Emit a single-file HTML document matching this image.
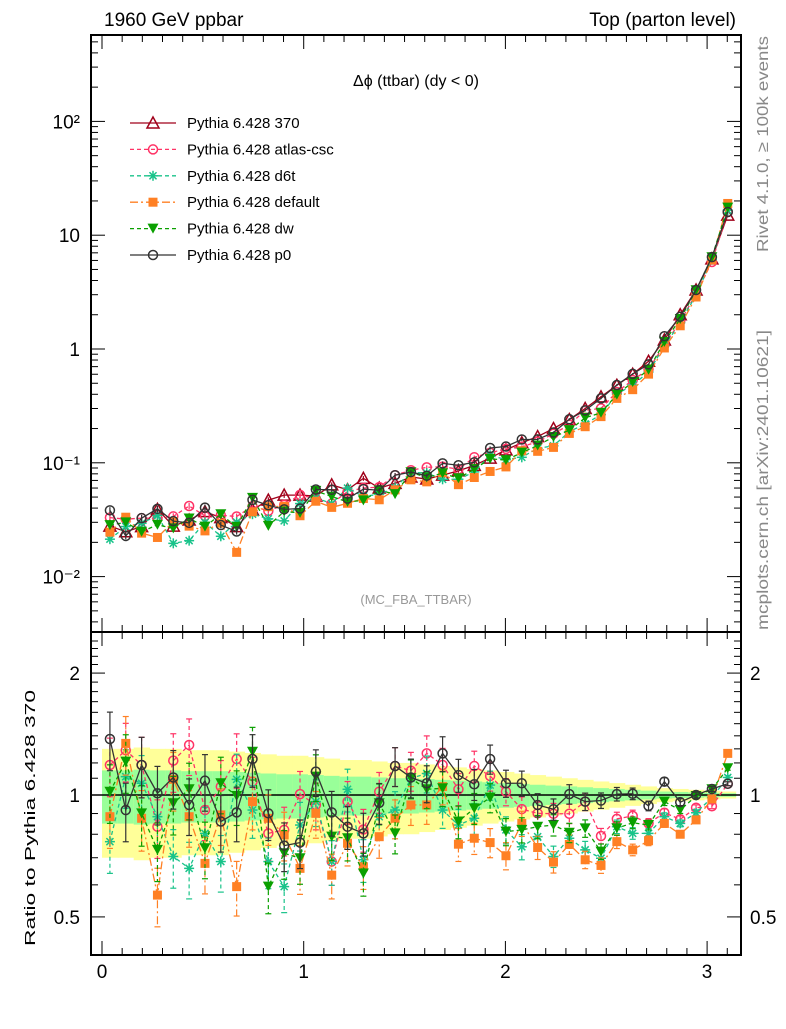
<!DOCTYPE html>
<html><head><meta charset="utf-8">
<style>
body{margin:0;background:#fff;}
svg{font-family:"Liberation Sans",sans-serif;}
</style></head>
<body>
<svg id="chart" width="786" height="1024" xmlns="http://www.w3.org/2000/svg">
<text x="104" y="26" font-size="19">1960 GeV ppbar</text>
<text x="736" y="26" font-size="19" text-anchor="end">Top (parton level)</text>
<text x="416" y="86" font-size="16" text-anchor="middle">Δϕ (ttbar) (dy &lt; 0)</text>
<text x="416" y="604" font-size="13" fill="#999" text-anchor="middle">(MC_FBA_TTBAR)</text>
<text transform="translate(768,252) rotate(-90)" font-size="16" fill="#888" textLength="216" lengthAdjust="spacingAndGlyphs">Rivet 4.1.0, ≥ 100k events</text>
<text transform="translate(768,630) rotate(-90)" font-size="16" fill="#888" textLength="300" lengthAdjust="spacingAndGlyphs">mcplots.cern.ch [arXiv:2401.10621]</text>
<text transform="translate(35,946) rotate(-90)" font-size="15" textLength="256" lengthAdjust="spacingAndGlyphs">Ratio to Pythia 6.428 370</text>
<g id="layer"></g>
</svg>
<script>
const mainRef = [0.0278,0.0248,0.0275,0.039,0.0278,0.0314,0.0372,0.033,0.0275,0.0385,0.047,0.052,0.052,0.051,0.064,0.058,0.073,0.06,0.066,0.075,0.072,0.078,0.085,0.095,0.11,0.13,0.15,0.17,0.2,0.24,0.3,0.38,0.48,0.6,0.78,1.2,2.0,3.3,6.2,15];
const rP0 = [1.375,0.918,1.186,1.01,1.105,0.945,1.085,0.86,0.906,1.227,0.901,0.75,0.763,1.142,0.906,0.835,0.804,0.957,1.179,1.105,1.069,1.267,1.12,1.063,1.227,1.069,1.069,0.945,0.922,1.005,0.963,0.969,1.005,1.007,0.94,1.079,0.96,1.0,1.035,1.066];
const rAtlas = [1.186,1.29,1.186,0.835,1.216,1.329,0.918,1.049,1.227,1.079,0.804,0.82,1.005,0.945,0.685,0.963,0.822,1.019,1.179,1.148,1.267,1.186,1.033,1.179,1.114,1.019,0.923,0.901,0.899,0.899,0.963,0.792,0.873,0.888,0.851,0.904,0.871,0.93,0.938,1.066];
const rDw = [1.019,1.209,0.901,0.732,0.954,1.033,0.739,1.069,0.994,1.279,0.594,0.718,0.698,1.11,0.789,0.782,0.64,0.954,0.804,1.1,1.033,1.039,0.86,0.927,0.985,0.812,0.82,0.835,0.843,0.807,0.827,0.725,0.827,0.854,0.843,0.963,0.918,0.994,1.033,1.164];
const rDefault = [0.884,1.341,0.876,0.566,1.093,0.884,0.678,0.893,0.594,0.963,0.876,0.797,0.659,0.901,0.634,0.76,0.665,0.789,0.876,0.945,0.945,1.049,0.756,0.782,0.763,0.708,0.851,0.742,0.683,0.755,0.692,0.67,0.767,0.732,0.771,0.851,0.8,0.868,0.978,1.267];
const rD6t = [0.767,1.11,1.069,0.884,0.705,0.659,0.804,0.685,1.093,0.918,0.685,0.594,0.843,0.963,0.685,1.033,0.692,0.884,0.918,1.1,1.13,0.918,0.843,0.876,1.058,0.82,0.745,0.789,0.705,0.782,0.732,0.698,0.835,0.804,0.804,0.884,0.851,0.904,0.985,1.105];
const yellowHalf = [0.30,0.30,0.31,0.30,0.30,0.29,0.29,0.29,0.28,0.27,0.26,0.25,0.25,0.24,0.23,0.22,0.22,0.21,0.20,0.20,0.19,0.18,0.17,0.16,0.15,0.14,0.13,0.12,0.11,0.10,0.09,0.08,0.07,0.06,0.05,0.04,0.035,0.03,0.025,0.02];
const xTicks = [0,1,2,3];
const yMainTicks = [[100,"10²"],[10,"10"],[1,"1"],[0.1,"10⁻¹"],[0.01,"10⁻²"]];
const yRatioTicks = [[2,"2"],[1,"1"],[0.5,"0.5"]];

const NS="http://www.w3.org/2000/svg";
const L=document.getElementById('layer');
const X0=91,X1=741,MT=35,MB=632,RB=955;
const xp=v=>102+201.7*v;
const ym=v=>349-113.8*Math.log10(v);
const yr=r=>795-405*Math.log10(r);
const bw=Math.PI/40;
function el(t,a,p){const e=document.createElementNS(NS,t);for(const k in a)e.setAttribute(k,a[k]);(p||L).appendChild(e);return e;}

const defs=el('defs',{});
const c1=el('clipPath',{id:'cm'},defs);el('rect',{x:X0,y:MT,width:X1-X0,height:MB-MT},c1);
const c2=el('clipPath',{id:'cr'},defs);el('rect',{x:X0,y:MB,width:X1-X0,height:RB-MB},c2);

const gb=el('g',{'clip-path':'url(#cr)'});


yellowHalf.forEach((h,i)=>{
  const xa=xp(i*bw),xb=xp((i+1)*bw);
  el('rect',{x:xa,y:yr(1+h),width:xb-xa+0.5,height:yr(1-h)-yr(1+h),fill:'#ffff99'},gb);
  el('rect',{x:xa,y:yr(1+h/2),width:xb-xa+0.5,height:yr(1-h/2)-yr(1+h/2),fill:'#99ff99'},gb);
});
el('line',{x1:X0,x2:X1,y1:yr(1),y2:yr(1),stroke:'#000','stroke-width':1.5});

const series=[
 {name:'Pythia 6.428 370',r:null,c:'#a0001a',dash:'',m:'tri'},
 {name:'Pythia 6.428 atlas-csc',r:rAtlas,c:'#ff3366',dash:'4,3',m:'circ'},
 {name:'Pythia 6.428 d6t',r:rD6t,c:'#19c38a',dash:'4,3',m:'star'},
 {name:'Pythia 6.428 default',r:rDefault,c:'#ff8024',dash:'8,3,2,3',m:'sq'},
 {name:'Pythia 6.428 dw',r:rDw,c:'#0aa000',dash:'4,3',m:'tdown'},
 {name:'Pythia 6.428 p0',r:rP0,c:'#333333',dash:'',m:'circ'}
];
function marker(g,m,x,y,c){
  if(m==='tri')el('path',{d:`M${x},${y-6}L${x+6},${y+5}L${x-6},${y+5}Z`,fill:'none',stroke:c,'stroke-width':1.5},g);
  else if(m==='circ')el('circle',{cx:x,cy:y,r:4.5,fill:'#fff','fill-opacity':0,stroke:c,'stroke-width':1.5},g);
  else if(m==='sq')el('rect',{x:x-4.5,y:y-4.5,width:9,height:9,fill:c},g);
  else if(m==='tdown')el('path',{d:`M${x-5.5},${y-5}L${x+5.5},${y-5}L${x},${y+5}Z`,fill:c},g);
  else if(m==='star'){for(let a=0;a<4;a++){const t=a*Math.PI/4;el('line',{x1:x-5*Math.cos(t),y1:y-5*Math.sin(t),x2:x+5*Math.cos(t),y2:y+5*Math.sin(t),stroke:c,'stroke-width':1.5},g);}}
}
series.forEach((s,si)=>{
  const rat=s.r||mainRef.map(()=>1);
  const gm=el('g',{'clip-path':'url(#cm)'});
  
  
  const gr=el('g',{'clip-path':'url(#cr)'});
  
  
  let pm='',pr='';
  rat.forEach((r,i)=>{
    const x=xp((i+0.5)*bw),v=mainRef[i]*r;
    pm+=(i?'L':'M')+x+','+ym(v);
    pr+=(i?'L':'M')+x+','+yr(r);
  });
  el('path',{d:pm,fill:'none',stroke:s.c,'stroke-width':1.3,'stroke-dasharray':s.dash},gm);
  if(s.r)el('path',{d:pr,fill:'none',stroke:s.c,'stroke-width':1.3,'stroke-dasharray':s.dash},gr);
  rat.forEach((r,i)=>{
    const x=xp((i+0.5)*bw),v=mainRef[i]*r,e=yellowHalf[i]*0.55;
    el('line',{x1:x,x2:x,y1:ym(v*(1+e*0.4)),y2:ym(v*(1-e*0.4)),stroke:s.c,'stroke-width':1.2},gm);
    marker(gm,s.m,x,ym(v),s.c);
    if(s.r){
      el('line',{x1:x,x2:x,y1:yr(r*(1+e)),y2:yr(r*(1-e)),stroke:s.c,'stroke-width':1.2,'stroke-dasharray':s.dash},gr);
      el('line',{x1:x-3,x2:x+3,y1:yr(r*(1+e)),y2:yr(r*(1+e)),stroke:s.c,'stroke-width':1.2},gr);
      el('line',{x1:x-3,x2:x+3,y1:yr(r*(1-e)),y2:yr(r*(1-e)),stroke:s.c,'stroke-width':1.2},gr);
      marker(gr,s.m,x,yr(r),s.c);
    }
  });
  const ly=123+si*26.4;
  const lg=el('g',{});
  
  
  el('line',{x1:130,x2:176,y1:ly,y2:ly,stroke:s.c,'stroke-width':1.3,'stroke-dasharray':s.dash},lg);
  marker(lg,s.m,153,ly,s.c);
  const t=el('text',{x:187,y:ly+5,'font-size':15},lg);t.textContent=s.name;
});

el('rect',{x:X0,y:MT,width:X1-X0,height:MB-MT,fill:'none',stroke:'#000','stroke-width':2});
el('rect',{x:X0,y:MB,width:X1-X0,height:RB-MB,fill:'none',stroke:'#000','stroke-width':2});
for(let k=0;k<=31;k++){
  const v=k/10;const x=xp(v);if(x>X1)break;const big=k%10===0;const len=big?14:7;
  [MB,RB].forEach(yb=>{el('line',{x1:x,x2:x,y1:yb,y2:yb-len,stroke:'#000','stroke-width':1});});
  [MT,MB].forEach(yt=>{el('line',{x1:x,x2:x,y1:yt,y2:yt+len,stroke:'#000','stroke-width':1});});
}
xTicks.forEach(v=>{const t=el('text',{x:xp(v),y:978,'font-size':19,'text-anchor':'middle'});


t.textContent=v;});
for(let d=-3;d<=2;d++){for(let m=1;m<10;m++){const v=m*Math.pow(10,d);const y=ym(v);if(y<MT||y>MB)continue;const len=m===1?14:7;
 el('line',{x1:X0,x2:X0+len,y1:y,y2:y,stroke:'#000'});el('line',{x1:X1,x2:X1-len,y1:y,y2:y,stroke:'#000'});}}
yMainTicks.forEach(([v,l])=>{const t=el('text',{x:80,y:ym(v)+7,'font-size':19,'text-anchor':'end'});


t.textContent=l;});
for(let r=0.3;r<=2.5;r+=0.1){const y=yr(r);if(y<MB||y>RB)continue;const big=Math.abs(r-0.5)<1e-6||Math.abs(r-1)<1e-6||Math.abs(r-2)<1e-6;const len=big?14:7;
 el('line',{x1:X0,x2:X0+len,y1:y,y2:y,stroke:'#000'});el('line',{x1:X1,x2:X1-len,y1:y,y2:y,stroke:'#000'});}
yRatioTicks.forEach(([v,l])=>{
 const t=el('text',{x:80,y:yr(v)+7,'font-size':19,'text-anchor':'end'});
 
 
 t.textContent=l;
 const t2=el('text',{x:750,y:yr(v)+7,'font-size':19});
 
 
 t2.textContent=l;});
</script>
</body></html>
